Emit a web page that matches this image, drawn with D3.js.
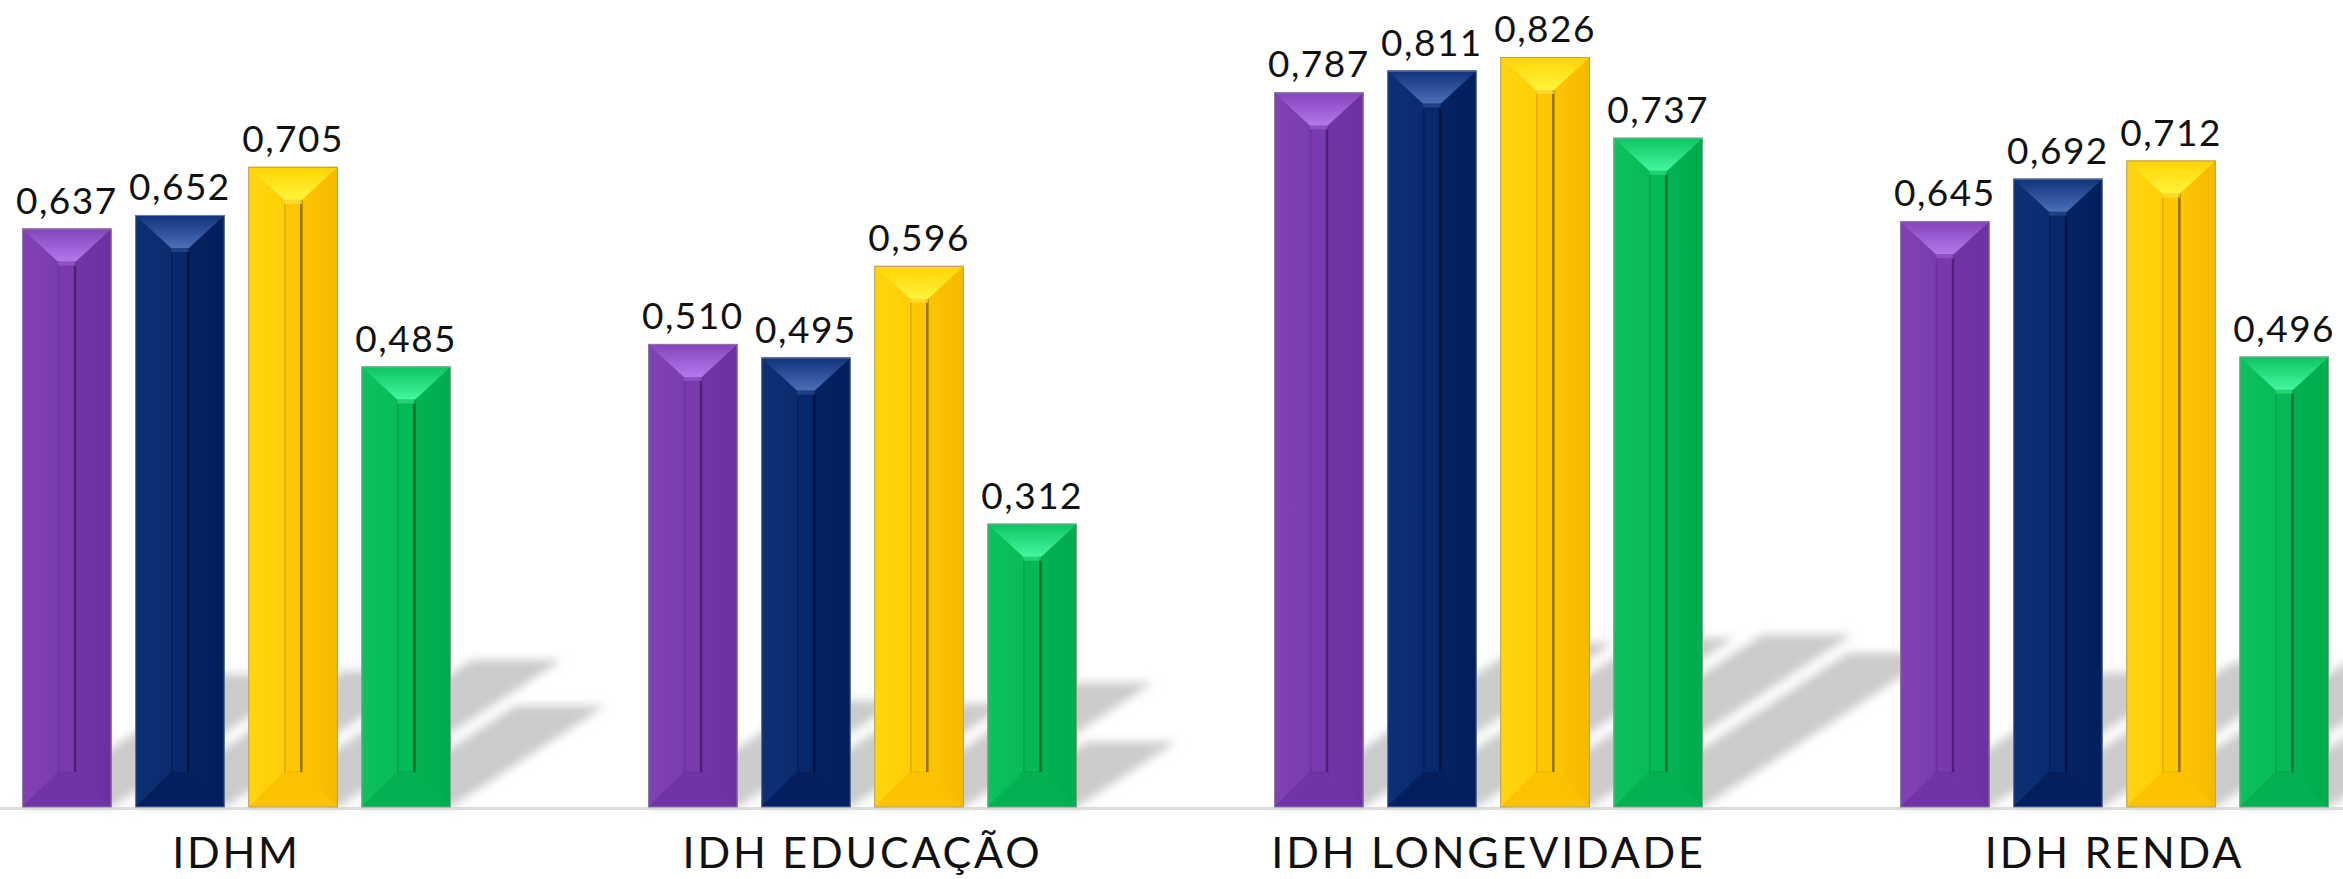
<!DOCTYPE html>
<html>
<head>
<meta charset="utf-8">
<script src="https://cdn.jsdelivr.net/npm/d3@7"></script>
<style>
  html, body { margin: 0; padding: 0; background: #ffffff; }
  svg { display: block; }
</style>
</head>
<body>
<div id="chart"></div>
<script>
// ---- data ----
const categories = ["IDHM", "IDH EDUCAÇÃO", "IDH LONGEVIDADE", "IDH RENDA"];
const seriesNames = ["s1", "s2", "s3", "s4"];
const series1 = [0.637, 0.510, 0.787, 0.645];
const series2 = [0.652, 0.495, 0.811, 0.692];
const series3 = [0.705, 0.596, 0.826, 0.712];
const series4 = [0.485, 0.312, 0.737, 0.496];
const seriesValues = [series1, series2, series3, series4];

// ---- styles ----
const W = 2343, H = 879;
const baseline = 807;
const palettes = [
  { l0: "#8242b6", l1: "#7b3cae", r0: "#7334a6", r1: "#6e309f", col: "#7a3aad", line: "#44196a", top0: "#8544ba", top1: "#b676ec", bot: "#7234a4", cap: "#9a5acd", stroke: "#8c7aa0" },
  { l0: "#0d3076", l1: "#0a2b6e", r0: "#052262", r1: "#031e5c", col: "#07286a", line: "#000c30", top0: "#10327a", top1: "#4a70b8", bot: "#041f5e", cap: "#2a4c90", stroke: "#6d7a96" },
  { l0: "#ffd50f", l1: "#ffcf05", r0: "#fcc500", r1: "#f6b900", col: "#fdc700", line: "#7a5d00", top0: "#ffd400", top1: "#fff43c", bot: "#fcc200", cap: "#ffe040", stroke: "#b0a070" },
  { l0: "#0cc25e", l1: "#08bb58", r0: "#03b252", r1: "#00ab4d", col: "#05b956", line: "#005a26", top0: "#0cc461", top1: "#45f7a0", bot: "#04b052", cap: "#30dd80", stroke: "#78a88a" }
];

const svg = d3.select("#chart").append("svg").attr("width", W).attr("height", H);
const defs = svg.append("defs");

palettes.forEach((p, i) => {
  const side = defs.append("linearGradient").attr("id", "side" + i)
    .attr("x1", "0").attr("x2", "1").attr("y1", "0").attr("y2", "0");
  side.append("stop").attr("offset", "0").attr("stop-color", p.l0);
  side.append("stop").attr("offset", "0.4").attr("stop-color", p.l1);
  side.append("stop").attr("offset", "0.6").attr("stop-color", p.r0);
  side.append("stop").attr("offset", "1").attr("stop-color", p.r1);
  const top = defs.append("linearGradient").attr("id", "top" + i)
    .attr("x1", "0").attr("x2", "0").attr("y1", "0").attr("y2", "1");
  top.append("stop").attr("offset", "0").attr("stop-color", p.top0);
  top.append("stop").attr("offset", "1").attr("stop-color", p.top1);
});

const blur = defs.append("filter").attr("id", "shblur")
  .attr("x", "-10%").attr("y", "-10%").attr("width", "120%").attr("height", "120%");
blur.append("feGaussianBlur").attr("stdDeviation", 5);

// ---- scales ----
const x0 = d3.scaleBand().domain(categories).range([22, 2329]).paddingInner(0.3147).paddingOuter(0);
const x1 = d3.scaleBand().domain(seriesNames).range([0, x0.bandwidth()]).paddingInner(0.208).paddingOuter(0);
const y = d3.scaleLinear().domain([0, 1]).range([baseline, baseline - 908]);

const bars = [];
categories.forEach((c, ci) => {
  seriesNames.forEach((s, si) => {
    bars.push({ cat: c, ser: si, v: seriesValues[si][ci] });
  });
});

// ---- shadows ----
const shadowG = svg.append("g").attr("filter", "url(#shblur)");
shadowG.selectAll("path").data(bars).join("path")
  .attr("fill", "#cbcbcb")
  .attr("d", d => {
    const xa = x0(d.cat) + x1(seriesNames[d.ser]);
    const xb = xa + x1.bandwidth();
    const h = y(0) - y(d.v);
    const dx = 0.35 * h, dy = 0.23 * h;
    return `M${xa},${baseline} L${xb},${baseline} L${xb + dx},${baseline - dy} L${xa + dx},${baseline - dy} Z`;
  });

// ---- axis line ----
svg.append("line").attr("x1", 0).attr("x2", W).attr("y1", baseline + 1.5).attr("y2", baseline + 1.5)
  .attr("stroke", "#dcdcdc").attr("stroke-width", 3);

// ---- bars ----
const bw = x1.bandwidth();
const colW = 18;
const dTop = 33, dBot = 35;

const barG = svg.append("g").selectAll("g").data(bars).join("g")
  .attr("transform", d => `translate(${x0(d.cat) + x1(seriesNames[d.ser])},0)`);

barG.append("rect")
  .attr("x", 0).attr("width", bw)
  .attr("y", d => y(d.v)).attr("height", d => y(0) - y(d.v))
  .attr("fill", d => `url(#side${d.ser})`);

// central column
barG.append("rect")
  .attr("x", bw / 2 - colW / 2).attr("width", colW)
  .attr("y", d => y(d.v) + dTop).attr("height", d => y(0) - y(d.v) - dTop - dBot)
  .attr("fill", d => palettes[d.ser].col);
barG.append("rect")
  .attr("x", bw / 2 - colW / 2).attr("width", 1.5)
  .attr("y", d => y(d.v) + dTop).attr("height", d => y(0) - y(d.v) - dTop - dBot)
  .attr("fill", d => palettes[d.ser].line).attr("opacity", 0.25);
barG.append("rect")
  .attr("x", bw / 2 + colW / 2 - 2).attr("width", 2.5)
  .attr("y", d => y(d.v) + dTop).attr("height", d => y(0) - y(d.v) - dTop - dBot)
  .attr("fill", d => palettes[d.ser].line).attr("opacity", 0.8);
barG.append("rect")
  .attr("x", bw / 2 - colW / 2).attr("width", colW)
  .attr("y", d => y(d.v) + dTop).attr("height", 4)
  .attr("fill", d => palettes[d.ser].cap).attr("opacity", 0.7);

// top bevel
barG.append("path")
  .attr("fill", d => `url(#top${d.ser})`)
  .attr("d", d => {
    const t = y(d.v);
    return `M0,${t} L${bw},${t} L${bw / 2 + colW / 2},${t + dTop} L${bw / 2 - colW / 2},${t + dTop} Z`;
  });
// bottom bevel
barG.append("path")
  .attr("fill", d => palettes[d.ser].bot)
  .attr("d", () => {
    const b = baseline;
    return `M0,${b} L${bw},${b} L${bw / 2 + colW / 2},${b - dBot} L${bw / 2 - colW / 2},${b - dBot} Z`;
  });
barG.append("path")
  .attr("fill", "none").attr("stroke", "#000").attr("stroke-opacity", 0.08).attr("stroke-width", 1)
  .attr("d", () => {
    const b = baseline;
    return `M${bw / 2 - colW / 2},${b - dBot} L${bw / 2 + colW / 2},${b - dBot}`;
  });

// outline
barG.append("rect")
  .attr("x", 0.5).attr("width", bw - 1)
  .attr("y", d => y(d.v) + 0.5).attr("height", d => y(0) - y(d.v) - 0.5)
  .attr("fill", "none").attr("stroke", d => palettes[d.ser].stroke).attr("stroke-width", 1);

// ---- value labels ----
const fmt = v => d3.format(".3f")(v).replace(".", ",");
barG.append("text")
  .attr("x", bw / 2).attr("y", d => y(d.v) - 15)
  .attr("text-anchor", "middle")
  .attr("font-family", "Lato, 'Open Sans', sans-serif")
  .attr("font-size", 37).attr("letter-spacing", 1.5)
  .attr("fill", "#111")
  .text(d => fmt(d.v));

// ---- category labels ----
svg.append("g").selectAll("text").data(categories).join("text")
  .attr("x", d => x0(d) + x0.bandwidth() / 2)
  .attr("y", 868)
  .attr("text-anchor", "middle")
  .attr("font-family", "Lato, 'Open Sans', sans-serif")
  .attr("font-size", 43).attr("letter-spacing", 2.8)
  .attr("fill", "#111")
  .text(d => d);
</script>
</body>
</html>
